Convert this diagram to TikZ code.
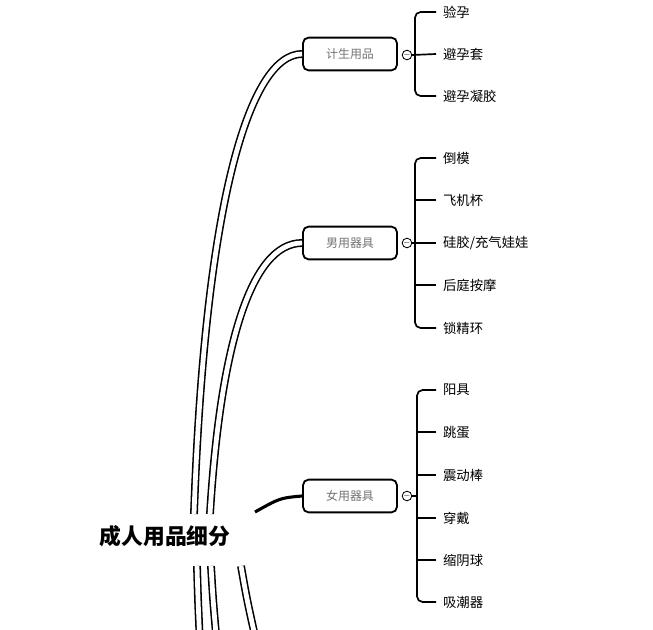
\documentclass[tikz,border=0pt]{standalone}
\usepackage{fontspec}
\setmainfont{Noto Sans CJK SC}
\usetikzlibrary{positioning,calc}

\begin{document}
\begin{tikzpicture}[x=0.025cm,y=-0.025cm,
  catbox/.style={draw,line width=1.3pt,rounded corners=4pt,fill=white,minimum width=2.35cm,
    minimum height=0.82cm,font=\fontsize{8.5}{9}\selectfont,text=black!55},
  itemlabel/.style={anchor=west,inner xsep=0.17cm,inner ysep=1pt,font=\fontsize{9.5}{10}\selectfont},
  foldmark/.style={draw,circle,line width=0.6pt,minimum size=0.24cm,inner sep=0pt,font=\tiny},
  stem/.style={line width=1.1pt,double=white,double distance=3.4pt},
  bracket/.style={line width=1.2pt,rounded corners=4pt}
]
  \clip (0,0) rectangle (653,630);
  % Root
  \node[font=\fontsize{15.5}{16}\selectfont\bfseries] (root) at (165,536) {成人用品细分};
  \coordinate (s1) at (194,514);
  \coordinate (s2) at (210,514);
  \coordinate (s3) at (255,512);
  \coordinate (d1) at (197,566);
  \coordinate (d2) at (211,566);
  \coordinate (d3) at (241,566);
  % Categories
  \node[catbox] (b1) at (350,54) {计生用品};
  \node[catbox] (b2) at (350,243) {男用器具};
  \node[catbox] (b3) at (350,496) {女用器具};
  \node[foldmark] (f1) at (407,55) {$-$};
  \node[foldmark] (f2) at (407,243) {$-$};
  \node[foldmark] (f3) at (407,496) {$-$};
  % Stems from the root
  \draw[stem] (s1) .. controls (205,200) and (250,54) .. (b1.west);
  \draw[stem] (s2) .. controls (220,350) and (250,243) .. (b2.west);
  \draw[line width=2.2pt] (s3) .. controls (280,498) .. (b3.west);
  \draw[stem] (d1) .. controls (198,600) .. (200,645);
  \draw[stem] (d2) .. controls (213,600) .. (217,645);
  \draw[stem] (d3) .. controls (247,600) .. (257,645);
  % Group 1
  \foreach \txt/\y [count=\i] in {验孕/12,避孕套/54,避孕凝胶/96}
    \node[itemlabel] (a\i) at (436,\y) {\txt};
  \draw[bracket] (a1.west) -- (415,12) -- (415,96) -- (a3.west);
  \draw[bracket] (f1.east) -- (a2.west);
  % Group 2
  \foreach \txt/\y [count=\i] in {倒模/158,飞机杯/200,{硅胶/充气娃娃}/243,后庭按摩/285,锁精环/328}
    \node[itemlabel] (m\i) at (436,\y) {\txt};
  \draw[bracket] (m1.west) -- (415,158) -- (415,328) -- (m5.west);
  \draw[bracket] (f2.east) -- (m3.west);
  \foreach \i in {2,4}
    \draw[bracket] (m\i.west) -- ++(-21,0);
  % Group 3
  \foreach \txt/\y [count=\i] in {阳具/390,跳蛋/432,震动棒/475,穿戴/518,缩阴球/560,吸潮器/602}
    \node[itemlabel] (w\i) at (436,\y) {\txt};
  \draw[bracket] (w1.west) -- (417,390) -- (417,602) -- (w6.west);
  \draw[bracket] (f3.east) -- (417,496);
  \foreach \i in {2,3,4,5}
    \draw[bracket] (w\i.west) -- ++(-19,0);
\end{tikzpicture}
\end{document}
